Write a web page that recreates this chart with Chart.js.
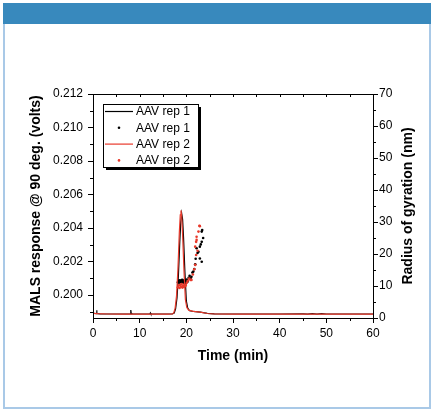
<!DOCTYPE html>
<html>
<head>
<meta charset="utf-8">
<script src="https://cdn.jsdelivr.net/npm/chart.js@4.4.1/dist/chart.umd.min.js"></script>
<style>
  body { margin: 0; background: #fff; }
  #wrap { position: relative; width: 436px; height: 412px; overflow: hidden; }
  #frame { position: absolute; left: 3px; top: 3px; width: 428px; height: 406px;
           box-sizing: border-box; border: 2px solid #a9c9e7; }
  #header { position: absolute; left: 3px; top: 3px; width: 428px; height: 21px; background: #3889bd; }
  #chart { position: absolute; left: 0; top: 0; }
</style>
</head>
<body>
<div id="wrap">
  <div id="frame"></div>
  <div id="header"></div>
  <canvas id="chart" width="436" height="412"></canvas>
</div>
<script>
// MALS trace, rep 1 (time in min, response in volts)
const rep1Time = [0, 0.4, 0.75, 0.8, 0.85, 1.0, 1.5, 3, 5, 7, 8.0, 8.1, 8.2, 8.5, 10, 12.2, 12.3, 12.4, 14, 16,
  17.0, 17.4, 17.7, 18.0, 18.3, 18.6, 18.8, 19.0, 19.2, 19.4, 19.7, 20.0, 20.3, 20.7, 21.5, 23.0, 24.5, 26,
  30, 35, 40, 45, 46, 47, 48, 49, 50, 55, 60];
const rep1Mals = [0.19892, 0.19890, 0.19889, 0.19910, 0.19889, 0.19889, 0.19888, 0.19887, 0.19887, 0.19887,
  0.19888, 0.19911, 0.19889, 0.19888, 0.19887, 0.19887, 0.19893, 0.19887, 0.19887, 0.19887,
  0.19888, 0.19893, 0.19918, 0.19982, 0.20115, 0.20320, 0.20435, 0.20488, 0.20452, 0.20345, 0.20135,
  0.19965, 0.19922, 0.19906, 0.19902, 0.19898, 0.19891, 0.19888,
  0.19887, 0.19887, 0.19887, 0.19888, 0.19886, 0.19889, 0.19886, 0.19889, 0.19887, 0.19887, 0.19887];

// MALS trace, rep 2
const rep2Time = [0, 1, 3, 6, 10, 14, 16, 17.0, 17.3, 17.6, 17.9, 18.2, 18.5, 18.7, 18.85, 19.0, 19.2, 19.5,
  19.8, 20.1, 20.5, 21.5, 23, 24.5, 26, 30, 40, 50, 60];
const rep2Mals = [0.19891, 0.19889, 0.19887, 0.19886, 0.19886, 0.19886, 0.19886, 0.19887, 0.19893, 0.19922,
  0.19995, 0.20155, 0.20375, 0.20478, 0.20505, 0.20472, 0.20362, 0.20142, 0.19972, 0.19926, 0.19910,
  0.19903, 0.19898, 0.19890, 0.19887, 0.19886, 0.19886, 0.19886, 0.19886];

// radius of gyration (nm), rep 1
const rep1RgTime = [18.2, 18.35, 18.5, 18.6, 18.75, 18.9, 19.0, 19.1, 19.25, 19.4, 19.5, 19.65, 19.8, 19.95,
  20.1, 20.3, 20.5, 20.7, 20.9, 21.1, 21.3, 21.5, 21.7, 21.9, 22.0, 22.2, 22.4, 22.6, 22.9, 22.9, 23.1,
  23.3, 23.3, 23.3, 23.4, 23.6];
const rep1Rg = [11.2, 11.6, 11.0, 11.8, 11.3, 11.7, 11.1, 11.9, 11.4, 11.0, 11.8, 11.3, 11.6, 11.0,
  12.0, 11.4, 12.6, 13.2, 12.4, 12.9, 14.2, 14.5, 15.3, 16.8, 18.5, 21.8, 20.3, 20.7, 18.6, 22.3, 23.0,
  17.6, 23.8, 27.0, 27.5, 25.0];

// radius of gyration (nm), rep 2
const rep2RgTime = [18.2, 18.4, 18.55, 18.7, 18.85, 19.0, 19.15, 19.3, 19.45, 19.6, 19.75, 19.9, 20.1, 20.3,
  20.6, 20.9, 21.1, 21.4, 21.7, 21.9, 21.9, 22.1, 22.1, 22.2, 22.2, 22.4, 22.6, 22.8, 22.9];
const rep2Rg = [9.6, 10.2, 9.4, 10.4, 9.8, 10.6, 9.5, 10.1, 9.7, 10.5, 9.9, 10.3, 11.0, 11.6,
  12.3, 11.9, 11.9, 13.6, 15.2, 16.6, 22.3, 19.7, 23.8, 24.4, 25.4, 21.0, 27.0, 28.8, 28.7];

const seriesLabels = ["AAV rep 1", "AAV rep 1", "AAV rep 2", "AAV rep 2"];
const xTicks = [0, 10, 20, 30, 40, 50, 60];
const yTicks = [0.200, 0.202, 0.204, 0.206, 0.208, 0.210, 0.212];
const y2Ticks = [0, 10, 20, 30, 40, 50, 60, 70];

const FONT = '"Liberation Sans", Arial, sans-serif';
const RED = "#e8392b";

const mids = (t) => t.slice(0, -1).map((v, i) => (v + t[i + 1]) / 2);
const xMinor = mids(xTicks);
const yMinor = [0.199].concat(mids(yTicks));
const y2Minor = mids(y2Ticks);

const pts = (xs, ys) => xs.map((v, i) => ({ x: v, y: ys[i] }));
const setTicks = (list) => (scale) => { scale.ticks = list.map((v) => ({ value: v })); };
const al = (v) => Math.round(v) + 0.5;

const frameTicks = {
  id: "frameTicks",
  afterDraw(chart) {
    const { ctx, chartArea: a, scales } = chart;
    const { x, y, y2 } = scales;
    ctx.save();
    ctx.strokeStyle = "#000";
    ctx.lineWidth = 1;
    ctx.strokeRect(al(a.left), al(a.top), Math.round(a.right - a.left), Math.round(a.bottom - a.top));
    ctx.beginPath();
    xMinor.forEach((v) => {
      const px = al(x.getPixelForValue(v));
      ctx.moveTo(px, a.bottom); ctx.lineTo(px, a.bottom + 3);
    });
    xTicks.concat(xMinor).forEach((v) => {
      const px = al(x.getPixelForValue(v));
      ctx.moveTo(px, a.top); ctx.lineTo(px, a.top + 3);
    });
    yMinor.forEach((v) => {
      const py = al(y.getPixelForValue(v));
      ctx.moveTo(a.left, py); ctx.lineTo(a.left - 3, py);
    });
    y2Minor.forEach((v) => {
      const py = al(y2.getPixelForValue(v));
      ctx.moveTo(a.right, py); ctx.lineTo(a.right + 3, py);
    });
    ctx.stroke();

    // right axis title reads bottom-to-top like the left one
    ctx.save();
    ctx.translate(408, (a.top + a.bottom) / 2);
    ctx.rotate(-Math.PI / 2);
    ctx.fillStyle = "#000";
    ctx.font = "bold 14px " + FONT;
    ctx.textAlign = "center";
    ctx.textBaseline = "middle";
    ctx.fillText("Radius of gyration (nm)", 0, 0);
    ctx.restore();

    // legend box with drop shadow
    const lx = Math.round(a.left) + 10, ly = Math.round(a.top) + 10, w = 95, h = 63;
    ctx.fillStyle = "#000";
    ctx.fillRect(lx + 3, ly + 3, w, h);
    ctx.fillStyle = "#fff";
    ctx.fillRect(lx, ly, w, h);
    ctx.strokeRect(lx + 0.5, ly + 0.5, w, h);
    const ds = chart.data.datasets;
    ctx.font = "12px " + FONT;
    ctx.textAlign = "left";
    ctx.textBaseline = "middle";
    seriesLabels.forEach((lab, i) => {
      const ry = ly + 7.5 + i * 16.3;
      const d = ds[i];
      if (d.showLine) {
        ctx.strokeStyle = d.borderColor;
        ctx.lineWidth = 1.2;
        ctx.beginPath(); ctx.moveTo(lx + 2, ry); ctx.lineTo(lx + 30, ry); ctx.stroke();
      } else {
        ctx.fillStyle = d.pointBackgroundColor;
        ctx.beginPath(); ctx.arc(lx + 16, ry, 1.3, 0, Math.PI * 2); ctx.fill();
      }
      ctx.fillStyle = "#000";
      ctx.fillText(lab, lx + 33, ry + 0.5);
    });
    ctx.restore();
  }
};

new Chart(document.getElementById("chart"), {
  type: "scatter",
  data: {
    datasets: [
      { label: seriesLabels[0], data: pts(rep1Time, rep1Mals), yAxisID: "y", showLine: true,
        borderColor: "#000", borderWidth: 1.2, pointRadius: 0, order: 4 },
      { label: seriesLabels[1], data: pts(rep1RgTime, rep1Rg), yAxisID: "y2", showLine: false,
        pointBackgroundColor: "#000", pointBorderWidth: 0, pointRadius: 1.3, order: 3 },
      { label: seriesLabels[2], data: pts(rep2Time, rep2Mals), yAxisID: "y", showLine: true,
        borderColor: RED, borderWidth: 1.2, pointRadius: 0, order: 2 },
      { label: seriesLabels[3], data: pts(rep2RgTime, rep2Rg), yAxisID: "y2", showLine: false,
        pointBackgroundColor: RED, pointBorderWidth: 0, pointRadius: 1.3, order: 1 }
    ]
  },
  options: {
    responsive: false,
    animation: false,
    layout: { padding: { top: 94, left: 0, right: 0, bottom: 0 } },
    plugins: { legend: { display: false }, tooltip: { enabled: false } },
    scales: {
      x: {
        type: "linear", position: "bottom", min: 0, max: 60,
        afterBuildTicks: setTicks(xTicks),
        afterFit: (s) => { s.height = 94; },
        border: { display: false },
        grid: { drawOnChartArea: false, drawTicks: true, tickLength: 5, color: "#000" },
        ticks: { color: "#000", padding: 3, maxRotation: 0, font: { family: FONT, size: 12 } },
        title: { display: true, text: "Time (min)", color: "#000",
          font: { family: FONT, size: 14, weight: "bold" }, padding: { top: 0, bottom: 47 } }
      },
      y: {
        type: "linear", position: "left", min: 0.19863, max: 0.212,
        afterBuildTicks: setTicks(yTicks),
        afterFit: (s) => { s.width = 93; },
        border: { display: false },
        grid: { drawOnChartArea: false, drawTicks: true, tickLength: 5, color: "#000" },
        ticks: { color: "#000", padding: 5, font: { family: FONT, size: 12 },
          callback: (v) => v.toFixed(3) },
        title: { display: true, text: "MALS response @ 90 deg. (volts)", color: "#000",
          font: { family: FONT, size: 14, weight: "bold" }, padding: { top: 28, bottom: 0 } }
      },
      y2: {
        type: "linear", position: "right", min: 0, max: 70,
        afterBuildTicks: setTicks(y2Ticks),
        afterFit: (s) => { s.width = 63; },
        border: { display: false },
        grid: { drawOnChartArea: false, drawTicks: true, tickLength: 5, color: "#000" },
        ticks: { color: "#000", padding: 1, font: { family: FONT, size: 12 } }
      }
    }
  },
  plugins: [frameTicks]
});
</script>
</body>
</html>
